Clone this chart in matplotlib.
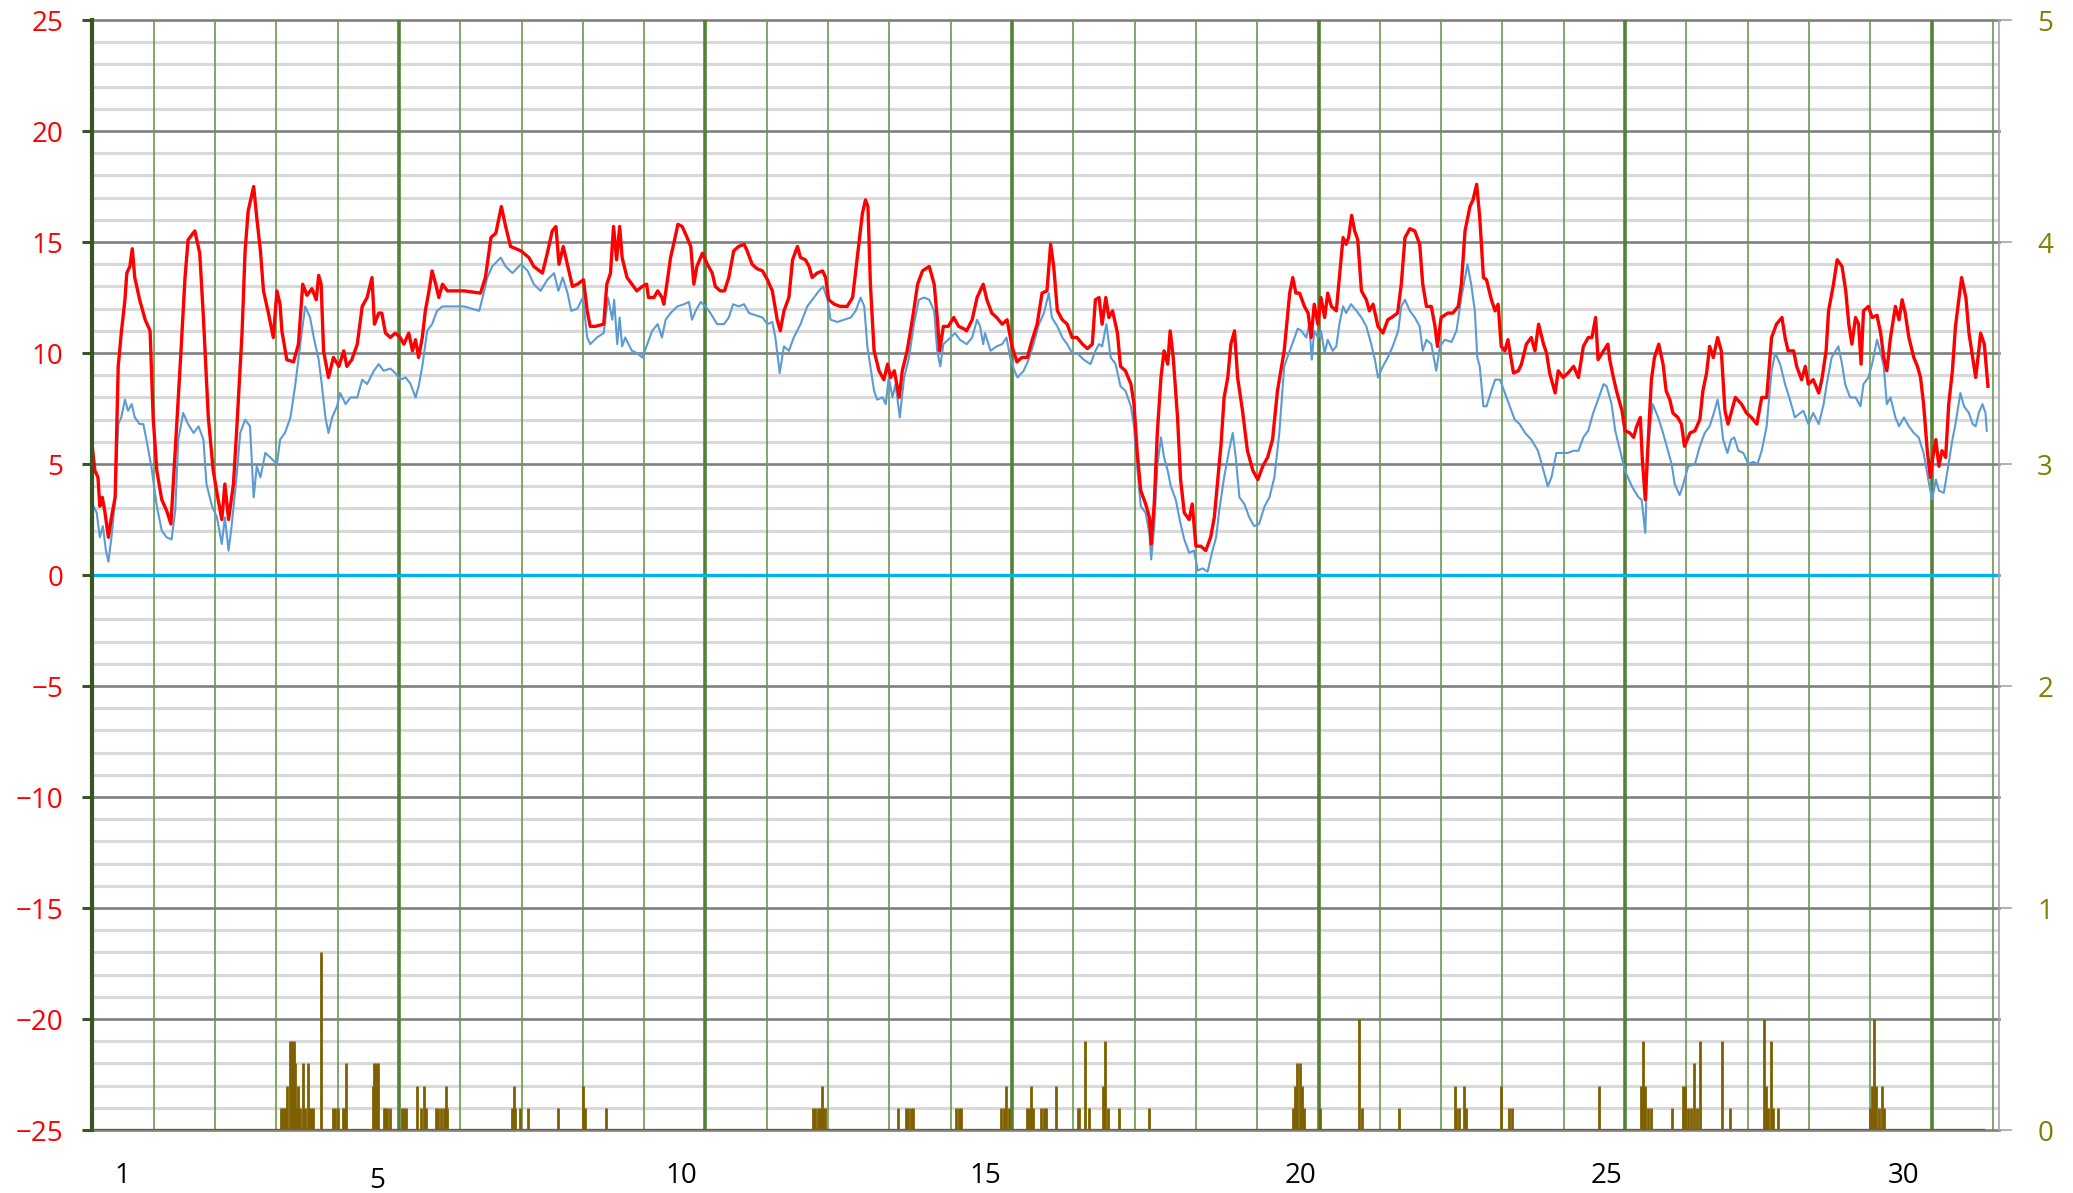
import matplotlib
matplotlib.use("Agg")
import matplotlib.pyplot as plt
from matplotlib.transforms import ScaledTranslation

# time in days from the left edge (0 = start of day 1), temperature in deg C
red_pts = [
    (0.00, 5.7), (0.04, 4.7), (0.09, 4.4), (0.12, 3.1), (0.16, 3.5), (0.20, 2.9), (0.26, 1.7), (0.31, 2.6),
    (0.37, 3.5), (0.42, 9.4), (0.47, 10.9), (0.53, 12.4), (0.56, 13.6), (0.61, 13.9), (0.65, 14.7), (0.69, 13.4),
    (0.77, 12.4), (0.86, 11.5), (0.94, 11.0), (0.99, 7.1), (1.05, 4.7), (1.13, 3.4), (1.21, 2.9), (1.28, 2.3),
    (1.35, 5.6), (1.43, 9.4), (1.51, 13.4), (1.56, 15.1), (1.67, 15.5), (1.75, 14.5), (1.81, 11.6), (1.89, 7.1),
    (1.97, 4.7), (2.05, 3.4), (2.11, 2.5), (2.16, 4.1), (2.22, 2.5), (2.30, 4.1), (2.35, 6.4), (2.44, 10.9),
    (2.49, 14.6), (2.54, 16.4), (2.63, 17.5), (2.68, 16.1), (2.74, 14.6), (2.79, 12.8), (2.87, 11.8), (2.95, 10.7),
    (3.01, 12.8), (3.06, 12.2), (3.09, 11.0), (3.17, 9.7), (3.28, 9.6), (3.36, 10.4), (3.43, 13.1), (3.50, 12.6),
    (3.58, 12.9), (3.65, 12.4), (3.69, 13.5), (3.73, 13.1), (3.77, 10.1), (3.85, 8.9), (3.93, 9.8), (4.02, 9.4),
    (4.10, 10.1), (4.15, 9.4), (4.23, 9.7), (4.32, 10.4), (4.40, 12.1), (4.48, 12.5), (4.56, 13.4), (4.60, 11.3),
    (4.67, 11.8), (4.72, 11.8), (4.78, 10.9), (4.86, 10.7), (4.94, 10.9), (5.02, 10.7), (5.08, 10.4), (5.16, 10.9),
    (5.22, 10.1), (5.27, 10.6), (5.32, 9.8), (5.38, 10.7), (5.43, 11.9), (5.49, 12.8), (5.54, 13.7), (5.60, 13.1),
    (5.65, 12.5), (5.71, 13.1), (5.79, 12.8), (6.06, 12.8), (6.33, 12.7), (6.41, 13.4), (6.50, 15.2), (6.58, 15.4),
    (6.67, 16.6), (6.74, 15.7), (6.82, 14.8), (6.99, 14.6), (7.12, 14.3), (7.20, 13.9), (7.34, 13.6), (7.42, 14.5),
    (7.50, 15.5), (7.56, 15.7), (7.61, 14.0), (7.68, 14.8), (7.78, 13.6), (7.83, 13.0), (7.91, 13.1),
    (8.01, 13.3), (8.07, 11.9), (8.12, 11.2), (8.20, 11.2), (8.34, 11.3), (8.39, 13.1), (8.45, 13.6), (8.50, 15.7),
    (8.55, 14.2), (8.60, 15.7), (8.64, 14.3), (8.72, 13.4), (8.80, 13.1), (8.88, 12.8), (8.97, 13.0), (9.04, 13.1),
    (9.07, 12.5), (9.16, 12.5), (9.22, 12.8), (9.29, 12.5), (9.32, 12.2), (9.37, 13.1), (9.43, 14.3), (9.48, 14.9),
    (9.55, 15.8), (9.62, 15.7), (9.70, 15.2), (9.76, 14.8), (9.81, 13.1), (9.86, 13.9), (9.95, 14.5), (10.03, 14.0),
    (10.11, 13.6), (10.16, 13.0), (10.24, 12.8), (10.31, 12.8), (10.38, 13.4), (10.46, 14.6), (10.54, 14.8),
    (10.63, 14.9), (10.68, 14.6), (10.76, 14.0), (10.84, 13.8), (10.93, 13.7), (11.01, 13.3), (11.09, 12.8),
    (11.17, 11.5), (11.22, 11.0), (11.28, 11.9), (11.36, 12.5), (11.42, 14.2), (11.50, 14.8), (11.55, 14.3),
    (11.63, 14.2), (11.69, 13.9), (11.74, 13.4), (11.82, 13.6), (11.91, 13.7), (11.96, 13.4), (12.01, 12.4),
    (12.10, 12.2), (12.20, 12.1), (12.31, 12.1), (12.40, 12.5), (12.45, 13.7), (12.50, 14.9), (12.56, 16.3),
    (12.61, 16.9), (12.65, 16.6), (12.69, 13.1), (12.75, 10.1), (12.83, 9.2), (12.91, 8.8), (12.97, 9.5),
    (13.02, 8.9), (13.08, 9.2), (13.16, 8.0), (13.21, 9.2), (13.29, 10.1), (13.38, 11.6), (13.46, 13.1),
    (13.54, 13.7), (13.65, 13.9), (13.73, 13.1), (13.78, 11.6),
    (13.82, 10.1), (13.88, 11.2), (13.96, 11.2), (14.05, 11.6), (14.13, 11.2), (14.21, 11.1), (14.26, 11.0),
    (14.35, 11.5), (14.43, 12.5), (14.53, 13.1), (14.59, 12.4), (14.67, 11.8), (14.75, 11.6), (14.84, 11.3),
    (14.92, 11.5), (15.00, 10.3), (15.08, 9.6), (15.16, 9.8), (15.25, 9.8), (15.33, 10.6), (15.41, 11.3),
    (15.49, 12.7), (15.57, 12.8), (15.63, 14.9), (15.68, 13.9), (15.74, 11.9), (15.82, 11.5), (15.90, 11.3),
    (15.98, 10.7), (16.06, 10.7), (16.15, 10.4), (16.23, 10.2), (16.31, 10.4), (16.36, 12.4), (16.42, 12.5),
    (16.47, 11.3), (16.53, 12.5), (16.58, 11.6), (16.64, 11.9), (16.72, 10.9), (16.77, 9.4), (16.85, 9.2),
    (16.94, 8.6), (16.99, 7.7), (17.04, 5.6), (17.10, 3.8), (17.18, 3.2), (17.24, 2.6), (17.27, 1.4),
    (17.32, 3.2), (17.37, 6.4), (17.43, 8.9), (17.48, 10.1), (17.54, 9.5), (17.58, 11.0), (17.63, 9.8),
    (17.70, 7.1), (17.75, 4.3), (17.81, 2.8), (17.89, 2.5), (17.94, 3.2), (18.00, 1.3), (18.08, 1.3),
    (18.16, 1.1), (18.24, 1.7), (18.30, 2.6), (18.35, 4.1), (18.41, 5.9), (18.46, 8.0), (18.52, 8.9),
    (18.57, 10.4), (18.63, 11.0), (18.68, 8.9), (18.76, 7.4), (18.84, 5.6), (18.93, 4.7), (19.01, 4.3),
    (19.09, 4.9), (19.17, 5.3), (19.25, 6.1), (19.33, 8.3), (19.44, 10.1), (19.53, 12.7), (19.58, 13.4),
    (19.63, 12.7), (19.69, 12.7),
    (19.77, 12.1), (19.83, 11.8), (19.88, 10.7), (19.93, 12.2), (19.99, 11.3), (20.04, 12.5), (20.10, 11.6),
    (20.15, 12.7), (20.21, 12.1), (20.29, 11.9), (20.34, 13.4), (20.40, 15.2), (20.45, 14.9), (20.49, 15.2),
    (20.54, 16.2), (20.59, 15.5), (20.64, 15.1), (20.70, 12.8), (20.78, 12.4), (20.83, 11.9), (20.89, 12.2),
    (20.97, 11.2), (21.05, 10.9), (21.13, 11.5), (21.19, 11.6), (21.29, 11.8), (21.35, 13.1), (21.41, 15.2),
    (21.49, 15.6), (21.57, 15.5), (21.65, 14.9), (21.70, 13.1), (21.76, 12.1), (21.84, 12.1), (21.90, 11.2),
    (21.94, 10.3), (22.00, 11.6), (22.11, 11.8), (22.19, 11.8), (22.28, 12.1), (22.33, 13.1), (22.39, 15.5),
    (22.47, 16.6), (22.52, 16.9), (22.58, 17.6), (22.63, 16.1), (22.69, 13.4), (22.74, 13.3), (22.82, 12.4),
    (22.88, 11.9), (22.93, 12.2), (22.98, 10.3), (23.04, 10.1), (23.09, 10.6), (23.18, 9.1), (23.26, 9.2),
    (23.31, 9.5), (23.39, 10.4), (23.47, 10.7), (23.53, 10.1), (23.59, 11.3), (23.67, 10.4), (23.72, 10.0),
    (23.77, 9.1), (23.86, 8.2), (23.91, 9.2), (23.99, 8.9), (24.07, 9.1), (24.16, 9.4), (24.24, 8.9),
    (24.32, 10.3), (24.40, 10.7), (24.46, 10.7), (24.52, 11.6), (24.56, 9.7), (24.65, 10.1), (24.72, 10.4),
    (24.75, 9.7), (24.81, 8.9), (24.86, 8.3), (24.95, 7.4), (25.00, 6.5), (25.08, 6.4), (25.14, 6.2),
    (25.19, 6.7), (25.25, 7.1), (25.28, 5.3), (25.33, 3.4),
    (25.37, 5.6), (25.43, 8.8), (25.48, 9.8), (25.55, 10.4), (25.62, 9.5), (25.67, 8.3), (25.73, 7.9),
    (25.78, 7.3), (25.86, 7.1), (25.92, 6.8), (25.97, 5.8), (26.06, 6.4), (26.14, 6.5), (26.22, 7.0),
    (26.27, 8.3), (26.33, 9.1), (26.38, 10.3), (26.44, 9.8), (26.51, 10.7), (26.57, 10.1), (26.63, 7.4),
    (26.68, 6.8), (26.74, 7.4), (26.80, 8.0), (26.90, 7.7), (26.98, 7.3), (27.06, 7.1), (27.15, 6.8),
    (27.23, 8.0), (27.31, 8.0), (27.39, 10.7), (27.47, 11.3), (27.56, 11.6), (27.61, 10.7), (27.66, 10.1),
    (27.75, 10.1), (27.80, 9.4), (27.88, 8.8), (27.94, 9.4), (27.99, 8.6), (28.07, 8.8), (28.16, 8.2),
    (28.21, 8.8), (28.28, 10.1), (28.32, 11.9), (28.40, 13.1), (28.46, 14.2), (28.54, 13.9), (28.60, 12.8),
    (28.65, 11.3), (28.70, 10.4), (28.76, 11.6), (28.81, 11.3), (28.85, 9.5), (28.89, 11.9), (28.97, 12.1),
    (29.03, 11.6), (29.11, 11.7), (29.17, 10.9), (29.22, 9.8), (29.27, 9.2), (29.33, 10.7), (29.41, 12.1),
    (29.47, 11.5), (29.52, 12.4), (29.57, 11.8), (29.63, 10.7), (29.71, 9.8), (29.77, 9.4), (29.82, 8.9),
    (29.87, 7.7), (29.93, 5.6), (29.98, 4.4), (30.02, 5.3), (30.07, 6.1), (30.12, 4.9), (30.17, 5.6),
    (30.23, 5.3), (30.28, 7.7), (30.34, 9.2), (30.39, 11.2), (30.45, 12.5), (30.49, 13.4), (30.56, 12.5),
    (30.61, 10.9), (30.67, 9.8), (30.72, 8.9), (30.77, 10.1), (30.80, 10.9), (30.86, 10.4), (30.91, 8.8),
    (30.92, 8.5),
]

blue_pts = [
    (0.00, 3.2), (0.07, 2.8), (0.12, 1.7), (0.17, 2.2), (0.22, 1.1), (0.26, 0.6), (0.31, 1.7), (0.37, 3.4),
    (0.42, 6.8), (0.47, 7.1), (0.53, 7.9), (0.58, 7.4), (0.64, 7.7), (0.69, 7.1), (0.77, 6.8), (0.83, 6.8),
    (0.88, 6.1), (0.96, 4.9), (1.05, 3.1), (1.13, 2.0), (1.21, 1.7), (1.29, 1.6), (1.35, 2.9), (1.40, 6.1),
    (1.48, 7.3), (1.56, 6.8), (1.65, 6.4), (1.73, 6.7), (1.81, 6.1), (1.86, 4.1), (1.95, 3.1), (2.03, 2.6),
    (2.11, 1.4), (2.16, 2.6), (2.22, 1.1), (2.27, 2.2), (2.35, 4.4), (2.41, 6.4), (2.49, 7.0), (2.57, 6.7),
    (2.63, 3.5), (2.68, 4.9), (2.74, 4.4), (2.82, 5.5), (2.90, 5.3), (3.01, 5.0), (3.06, 6.1), (3.14, 6.4),
    (3.23, 7.1), (3.31, 8.6), (3.39, 10.4), (3.47, 12.1), (3.55, 11.6), (3.61, 10.7), (3.69, 9.7), (3.74, 8.6),
    (3.80, 7.1), (3.85, 6.4), (3.91, 7.1), (3.99, 7.6), (4.04, 8.2), (4.13, 7.7), (4.21, 8.0), (4.32, 8.0),
    (4.40, 8.8), (4.48, 8.6), (4.59, 9.2), (4.67, 9.5), (4.75, 9.2), (4.86, 9.3), (4.94, 9.1), (5.02, 8.8),
    (5.11, 8.9), (5.19, 8.6), (5.27, 8.0), (5.32, 8.5), (5.38, 9.4), (5.46, 11.0), (5.54, 11.3), (5.62, 11.9),
    (5.71, 12.1), (5.79, 12.1), (6.06, 12.1), (6.31, 11.9), (6.39, 12.8), (6.44, 13.4), (6.52, 13.9),
    (6.66, 14.3), (6.74, 13.9), (6.85, 13.6), (6.99, 14.0), (7.10, 13.7), (7.20, 13.1), (7.31, 12.8),
    (7.42, 13.3), (7.53, 13.6), (7.60, 12.8), (7.67, 13.4), (7.75, 12.7), (7.81, 11.9), (7.91, 12.0),
    (8.00, 12.5), (8.07, 10.7), (8.12, 10.4), (8.23, 10.7), (8.34, 10.9), (8.41, 12.5), (8.48, 11.5),
    (8.51, 12.4), (8.56, 10.4), (8.60, 11.6), (8.64, 10.3), (8.69, 10.7), (8.80, 10.1), (8.88, 10.0),
    (8.97, 9.8), (9.05, 10.4), (9.13, 11.0), (9.22, 11.3), (9.29, 10.7), (9.35, 11.5), (9.43, 11.8),
    (9.54, 12.1), (9.65, 12.2), (9.73, 12.3), (9.78, 11.5), (9.84, 11.9), (9.92, 12.3), (10.00, 12.1),
    (10.08, 11.8), (10.19, 11.3), (10.30, 11.3), (10.38, 11.6), (10.45, 12.2), (10.54, 12.1), (10.63, 12.2),
    (10.71, 11.8), (10.82, 11.7), (10.93, 11.6), (11.01, 11.3), (11.09, 11.4), (11.14, 10.7), (11.21, 9.1),
    (11.28, 10.3), (11.36, 10.1), (11.44, 10.7), (11.55, 11.3), (11.66, 12.1), (11.77, 12.5), (11.85, 12.8),
    (11.92, 13.0), (11.99, 12.4), (12.04, 11.5), (12.15, 11.4), (12.26, 11.5), (12.37, 11.6), (12.45, 11.9),
    (12.53, 12.5), (12.59, 12.1), (12.64, 10.3), (12.69, 9.4), (12.75, 8.3), (12.80, 7.9), (12.89, 8.0),
    (12.94, 7.7), (12.99, 8.9), (13.05, 8.0), (13.10, 8.6), (13.17, 7.1), (13.24, 8.9), (13.32, 9.8),
    (13.40, 11.3), (13.48, 12.4), (13.57, 12.5), (13.65, 12.4), (13.73, 11.9), (13.78, 10.1),
    (13.83, 9.4), (13.88, 10.4), (13.96, 10.6), (14.07, 10.9), (14.15, 10.6), (14.26, 10.4), (14.35, 10.7),
    (14.43, 11.5), (14.48, 11.2), (14.53, 10.4), (14.56, 10.9), (14.65, 10.1), (14.75, 10.3), (14.84, 10.4),
    (14.91, 10.7), (14.97, 9.8), (15.04, 9.2), (15.09, 8.9), (15.19, 9.2), (15.27, 9.7), (15.35, 10.4),
    (15.44, 11.3), (15.52, 11.8), (15.60, 12.7), (15.65, 11.6), (15.74, 11.2), (15.82, 10.7), (15.90, 10.4),
    (15.98, 10.0), (16.06, 10.0), (16.17, 9.7), (16.28, 9.5), (16.36, 10.1), (16.42, 10.4), (16.47, 10.3),
    (16.54, 11.3), (16.61, 9.8), (16.69, 9.5), (16.77, 8.5), (16.85, 8.3), (16.94, 7.6), (16.99, 6.7),
    (17.04, 4.9), (17.10, 3.1), (17.18, 2.8), (17.24, 1.9), (17.27, 0.7), (17.32, 2.2), (17.37, 4.9),
    (17.43, 6.2), (17.48, 5.3), (17.54, 4.7), (17.59, 4.0), (17.67, 3.4), (17.75, 2.3), (17.81, 1.6),
    (17.89, 1.0), (17.97, 1.1), (18.03, 0.2), (18.11, 0.3), (18.19, 0.15), (18.27, 1.1), (18.33, 1.7),
    (18.38, 2.9), (18.46, 4.4), (18.54, 5.6), (18.60, 6.4), (18.65, 5.3), (18.71, 3.5), (18.79, 3.2),
    (18.87, 2.6), (18.95, 2.2), (19.03, 2.3), (19.12, 3.1), (19.20, 3.5), (19.28, 4.4), (19.36, 6.4),
    (19.44, 9.4), (19.53, 10.1), (19.61, 10.7), (19.66, 11.1), (19.72, 11.0),
    (19.80, 10.7), (19.85, 11.3), (19.89, 9.7), (19.93, 11.0), (19.99, 10.7), (20.04, 11.0), (20.10, 10.0),
    (20.15, 10.6), (20.23, 10.1), (20.29, 10.3), (20.34, 11.3), (20.40, 12.1), (20.45, 11.8), (20.53, 12.2),
    (20.62, 11.9), (20.70, 11.6), (20.78, 11.2), (20.86, 10.4), (20.92, 9.7), (20.97, 8.9), (21.05, 9.4),
    (21.13, 9.8), (21.21, 10.3), (21.30, 11.0), (21.35, 12.1), (21.41, 12.4), (21.49, 11.9), (21.57, 11.6),
    (21.65, 11.2), (21.70, 10.1), (21.76, 10.6), (21.84, 10.4), (21.92, 9.2), (21.98, 10.3), (22.06, 10.6),
    (22.17, 10.5), (22.25, 11.0), (22.33, 12.5), (22.39, 13.4), (22.43, 14.0), (22.49, 13.1), (22.55, 11.9),
    (22.59, 9.8), (22.63, 9.4), (22.69, 7.6), (22.74, 7.6), (22.82, 8.3), (22.88, 8.8), (22.96, 8.8),
    (23.04, 8.2), (23.12, 7.6), (23.20, 7.0), (23.28, 6.8), (23.37, 6.4), (23.47, 6.1), (23.58, 5.6),
    (23.67, 4.7), (23.74, 4.0), (23.80, 4.4), (23.88, 5.5), (23.97, 5.5), (24.07, 5.5), (24.16, 5.6),
    (24.24, 5.6), (24.32, 6.2), (24.40, 6.5), (24.48, 7.3), (24.56, 7.9), (24.65, 8.6), (24.70, 8.5),
    (24.78, 7.7), (24.84, 6.5), (24.92, 5.6), (25.00, 4.7), (25.11, 4.0), (25.22, 3.5), (25.27, 3.4),
    (25.33, 1.9),
    (25.37, 5.6), (25.45, 7.7), (25.54, 7.1), (25.62, 6.4), (25.70, 5.6), (25.76, 5.0), (25.81, 4.1),
    (25.89, 3.6), (25.94, 4.0), (26.03, 4.9), (26.14, 5.0), (26.22, 5.8), (26.30, 6.4), (26.38, 6.7),
    (26.46, 7.4), (26.51, 7.9), (26.56, 7.1), (26.60, 6.1), (26.67, 5.5), (26.73, 6.1), (26.78, 6.2),
    (26.85, 5.6), (26.93, 5.5), (27.01, 5.0), (27.09, 5.1), (27.16, 5.0), (27.23, 5.6), (27.31, 6.7),
    (27.39, 9.2), (27.45, 10.0), (27.53, 9.5), (27.61, 8.6), (27.69, 7.9), (27.77, 7.1), (27.86, 7.3),
    (27.91, 7.4), (27.99, 6.8), (28.07, 7.3), (28.16, 6.8), (28.24, 7.7), (28.29, 8.6), (28.37, 9.8),
    (28.48, 10.3), (28.54, 9.5), (28.59, 8.6), (28.67, 8.0), (28.76, 8.0), (28.84, 7.6), (28.89, 8.6),
    (28.97, 8.9), (29.03, 9.5), (29.11, 10.6), (29.17, 10.0), (29.22, 9.4), (29.27, 7.7), (29.33, 8.0),
    (29.41, 7.1), (29.47, 6.7), (29.55, 7.1), (29.63, 6.7), (29.71, 6.4), (29.79, 6.2), (29.87, 5.5),
    (29.96, 4.1), (30.01, 3.4), (30.07, 4.3), (30.12, 3.8), (30.20, 3.7), (30.26, 4.7), (30.34, 6.1),
    (30.39, 6.8), (30.47, 8.2), (30.53, 7.6), (30.61, 7.3), (30.67, 6.8), (30.72, 6.7), (30.77, 7.3),
    (30.83, 7.7), (30.88, 7.3), (30.90, 6.5),
]

# rain (mm, right axis)
rain_pts = [
    (3.08, 0.1), (3.10, 0.1), (3.12, 0.1), (3.14, 0.1), (3.17, 0.2), (3.22, 0.4), (3.25, 0.4), (3.28, 0.4),
    (3.30, 0.3), (3.32, 0.1), (3.36, 0.2), (3.39, 0.1), (3.44, 0.3), (3.47, 0.1), (3.51, 0.3), (3.54, 0.1),
    (3.57, 0.1), (3.59, 0.1), (3.73, 0.8), (3.92, 0.1), (3.96, 0.1), (4.00, 0.1), (4.08, 0.1), (4.11, 0.1),
    (4.13, 0.3), (4.57, 0.2), (4.60, 0.3), (4.62, 0.3), (4.66, 0.3), (4.75, 0.1), (4.78, 0.1), (4.81, 0.1),
    (4.86, 0.1), (5.05, 0.1), (5.08, 0.1), (5.11, 0.1), (5.29, 0.2), (5.36, 0.1), (5.41, 0.2), (5.44, 0.1),
    (5.60, 0.1), (5.64, 0.1), (5.68, 0.1), (5.73, 0.1), (5.76, 0.2), (5.78, 0.1), (6.85, 0.1), (6.87, 0.2),
    (6.90, 0.1), (6.97, 0.1), (7.11, 0.1), (7.59, 0.1), (8.00, 0.2), (8.03, 0.1), (8.38, 0.1),
    (11.75, 0.1), (11.79, 0.1), (11.83, 0.1), (11.87, 0.1), (11.90, 0.2), (11.91, 0.1), (11.95, 0.1),
    (13.14, 0.1), (13.27, 0.1), (13.31, 0.1), (13.35, 0.1), (13.39, 0.1),
    (14.09, 0.1), (14.13, 0.1), (14.17, 0.1),
    (14.82, 0.1), (14.87, 0.1), (14.91, 0.2), (14.95, 0.1),
    (15.24, 0.1), (15.28, 0.1), (15.31, 0.2), (15.35, 0.1),
    (15.48, 0.1), (15.52, 0.1), (15.56, 0.1),
    (15.72, 0.2), (16.07, 0.1), (16.10, 0.1), (16.19, 0.4), (16.25, 0.1), (16.48, 0.2), (16.51, 0.4),
    (16.57, 0.1), (16.74, 0.1), (17.24, 0.1),
    (19.58, 0.1), (19.61, 0.2), (19.65, 0.3), (19.69, 0.3), (19.73, 0.2), (19.77, 0.1),
    (20.02, 0.1), (20.66, 0.5), (20.71, 0.1),
    (21.32, 0.1), (22.22, 0.2), (22.25, 0.1), (22.29, 0.1), (22.38, 0.2), (22.40, 0.1), (22.97, 0.2),
    (23.11, 0.1), (23.15, 0.1), (24.57, 0.2),
    (25.26, 0.2), (25.29, 0.4), (25.33, 0.2), (25.37, 0.1), (25.42, 0.1),
    (25.77, 0.1), (25.94, 0.2), (25.98, 0.2), (26.03, 0.1), (26.07, 0.1), (26.13, 0.3), (26.17, 0.1),
    (26.22, 0.4), (26.58, 0.4), (26.71, 0.1),
    (27.27, 0.5), (27.30, 0.2), (27.33, 0.1), (27.38, 0.4), (27.42, 0.1), (27.49, 0.1),
    (29.00, 0.1), (29.03, 0.2), (29.06, 0.5), (29.10, 0.2), (29.14, 0.1), (29.19, 0.2), (29.23, 0.1),
]
rain_span = (0.0, 30.87)   # period covered by the rain record

day_labels = ["1", "5", "10", "15", "20", "25", "30"]
day_label_pos = [0.48, 4.64, 9.6, 14.56, 19.7, 24.7, 29.55]

red_t, red_v = zip(*red_pts)
blue_t, blue_v = zip(*blue_pts)
rain_t, rain_v = zip(*rain_pts)

plt.rcParams['font.family'] = ['Open Sans', 'DejaVu Sans']

fig = plt.figure(figsize=(20.73, 11.93), dpi=100)
ax = fig.add_axes([0.0446, 0.0528, 0.9197, 0.9304])

# horizontal grid: light every 1, dark every 5
for v in range(-25, 26):
    if v % 5 == 0:
        ax.axhline(v, color='#808080', lw=1.9, zorder=1, clip_on=False)
    else:
        ax.axhline(v, color='#D9D9D9', lw=2.2, zorder=0.5)

# vertical grid: one line a day, heavier every 5 days
for d in range(1, 32):
    if d % 5 == 0:
        ax.axvline(d, color='#548235', lw=2.6, zorder=1.5)
    else:
        ax.axvline(d, color='#6A9A4A', lw=1.2, zorder=1.5)

ax.axhline(0, color='#00B0F0', lw=2.4, zorder=2)
ax.plot(blue_t, blue_v, color='#5B9BD5', lw=1.5, zorder=3)
ax.plot(red_t, red_v, color='#FF0000', lw=2.4, zorder=4)

ax.set_xlim(0, 31.1)
ax.set_ylim(-25, 25)
ax.set_yticks(range(-25, 26, 5))
ax.tick_params(axis='y', color='#375623', labelcolor='#FF0000', length=7, width=2.2,
               pad=14, labelsize=20)
ax.set_xticks(day_label_pos, day_labels)
ax.tick_params(axis='x', length=0, pad=23, labelsize=20, labelcolor='black')
for lbl in ax.get_xticklabels():
    if lbl.get_text() == '5':
        lbl.set_transform(lbl.get_transform() + ScaledTranslation(0, -0.05, fig.dpi_scale_trans))

for side in ['top', 'right', 'bottom']:
    ax.spines[side].set_visible(False)
ax.spines['left'].set_color('#375623')
ax.spines['left'].set_linewidth(3)
ax.spines['left'].set_zorder(5)

# rain on the right axis
ax2 = ax.twinx()
ax2.set_ylim(0, 5)
ax2.set_yticks(range(0, 6))
ax2.hlines(0, rain_span[0], rain_span[1], color='#7F6000', lw=2.4, zorder=3)
ax2.vlines(rain_t, 0, rain_v, color='#7F6000', lw=2.0, zorder=3)
ax2.tick_params(axis='y', color='#A6A6A6', labelcolor='#808000', length=9.5, width=1.2,
                pad=18, labelsize=20)
for side in ['top', 'left', 'bottom']:
    ax2.spines[side].set_visible(False)
ax2.spines['right'].set_color('#A6A6A6')
ax2.spines['right'].set_linewidth(1.2)

fig.savefig('out.png', dpi=100)
